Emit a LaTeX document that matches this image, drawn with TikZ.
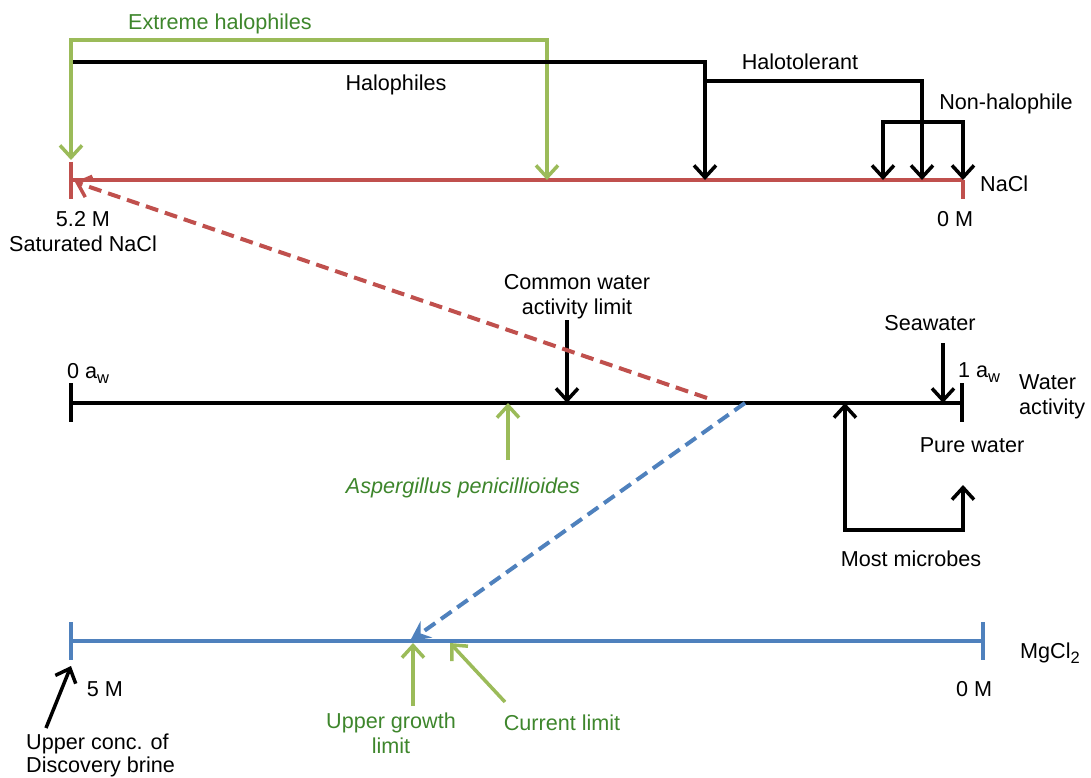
\documentclass[tikz,border=0pt]{standalone}
\usepackage{fontspec}
\setmainfont{Liberation Sans}
\usetikzlibrary{arrows.meta}

\definecolor{naclred}{RGB}{192,80,77}
\definecolor{mgblue}{RGB}{79,129,189}
\definecolor{lgreen}{RGB}{155,187,89}
\definecolor{dgreen}{RGB}{62,134,44}

\newcommand\lowsub[1]{\raisebox{-5pt}{\fontsize{16.5}{16.5}\selectfont #1}}

\begin{document}
\begin{tikzpicture}[x=1pt,y=-1pt,
    font=\fontsize{21.6}{25}\selectfont,
    every node/.style={inner sep=0pt},
    bar/.style={line width=4pt},
    tick/.style={line width=4pt},
    mark2/.style={line width=3.5pt,-{Straight Barb[length=12pt,width=22pt]}},
    mark22/.style={line width=3.5pt,{Straight Barb[length=12pt,width=22pt]}-{Straight Barb[length=12pt,width=22pt]}},
    link/.style={line width=4pt,dash pattern=on 13pt off 7pt}]

\useasboundingbox (0,0) rectangle (1091,778);

% the three scales
\coordinate (nacl-sat) at (71,180);
\coordinate (nacl-zero) at (963,180);
\coordinate (aw-zero) at (71,403);
\coordinate (aw-one) at (963,403);
\coordinate (mg-five) at (71,641);
\coordinate (mg-zero) at (983,641);

\draw[bar, naclred] (nacl-sat) -- (nacl-zero);
\draw[bar] (aw-zero) -- (aw-one);
\draw[bar, mgblue] (mg-five) -- (mg-zero);

\foreach \x/\a/\b in {71/162/199, 963/180/199}
    \draw[tick, naclred] (\x,\a) -- (\x,\b);
\foreach \x in {71,962}
    \draw[tick] (\x,383) -- (\x,422);
\foreach \x in {71,983}
    \draw[tick, mgblue] (\x,622) -- (\x,660);

% points on the NaCl scale
\coordinate (ext-a) at (71,160);
\coordinate (ext-b) at (547,180);
\coordinate (halo-a) at (73,62);
\coordinate (halo-b) at (705,180);
\coordinate (tol-a) at (705,81);
\coordinate (tol-b) at (922,180);
\coordinate (non-a) at (883,180);
\coordinate (non-b) at (963,180);

\draw[mark22, lgreen] (ext-a) |- (547,40) -- (ext-b);
\draw[mark2] (halo-a) -| (halo-b);
\draw[mark2] (tol-a) -| (tol-b);
\draw[mark22] (non-a) |- (963,122) -- (non-b);

\node[anchor=base, text=dgreen] (extreme) at (220,30) {Extreme halophiles};
\node[anchor=base] (halo) at (396,91) {Halophiles};
\node[anchor=base] (halotol) at (800,70) {Halotolerant};
\node[anchor=base] (nonhalo) at (1006,110) {Non-halophile};
\node[anchor=base west] (nacl) at (980,191) {NaCl};
\node[anchor=base, align=center] (sat) at (83,251) {5.2 M\\Saturated NaCl};
\node[anchor=base] (naclzero) at (955,226) {0 M};

% water activity scale
\coordinate (common-a) at (567,320);
\coordinate (common-b) at (567,403);
\coordinate (sea-a) at (943,343);
\coordinate (sea-b) at (943,403);
\coordinate (asp-a) at (508,460);
\coordinate (asp-b) at (508,403);
\coordinate (most-a) at (845,403);
\coordinate (most-b) at (963,485);

\draw[mark2] (common-a) -- (common-b);
\draw[mark2] (sea-a) -- (sea-b);
\draw[mark2, lgreen] (asp-a) -- (asp-b);
\draw[mark22] (most-a) -- (845,530) -| (most-b);

\node[anchor=base, align=center] (common) at (577,314) {Common water\\activity limit};
\node[anchor=base] (sea) at (930,330) {Seawater};
\node[anchor=base west] (awzero) at (67,378) {0 a\lowsub{w}};
\node[anchor=base west] (awone) at (958,377) {1 a\lowsub{w}};
\node[anchor=base west, align=left] (water) at (1019,414) {Water\\activity};
\node[anchor=base] (pure) at (972,452) {Pure water};
\node[anchor=base, text=dgreen, font=\fontsize{21.6}{25}\selectfont\itshape] (asper) at (463,493) {Aspergillus penicillioides};
\node[anchor=base] (most) at (911,566) {Most microbes};

% links between the scales
\coordinate (red-a) at (707,398);
\coordinate (red-b) at (75,182);
\coordinate (blue-a) at (745,403);
\coordinate (blue-b) at (410,641);

\draw[link, naclred, -{Straight Barb[length=12pt,width=22pt,line width=3.5pt]}] (red-a) -- (red-b);
\draw[link, mgblue, -{Stealth[length=20pt,width=20pt,inset=7pt]}] (blue-a) -- (blue-b);

% MgCl2 scale
\coordinate (disc-a) at (46,728);
\coordinate (disc-b) at (71,666);
\coordinate (grow-a) at (413,706);
\coordinate (grow-b) at (413,643);
\coordinate (cur-a) at (505,702);
\coordinate (cur-b) at (450,643);

\draw[mark2] (disc-a) -- (disc-b);
\draw[mark2, lgreen] (grow-a) -- (grow-b);
\draw[mark2, lgreen] (cur-a) -- (cur-b);

\node[anchor=base west] (mgcl) at (1020,658) {MgCl\lowsub{2}};
\node[anchor=base] (five) at (105,696) {5 M};
\node[anchor=base] (mgzero) at (974,696) {0 M};
\node[anchor=base, align=center, text=dgreen] (growth) at (391,753) {Upper growth\\limit};
\node[anchor=base, text=dgreen] (current) at (562,730) {Current limit};
\node[anchor=base west, align=left, font=\fontsize{21.6}{22.5}\selectfont] (disc) at (26,772) {Upper conc. of\\Discovery brine};

\end{tikzpicture}
\end{document}
